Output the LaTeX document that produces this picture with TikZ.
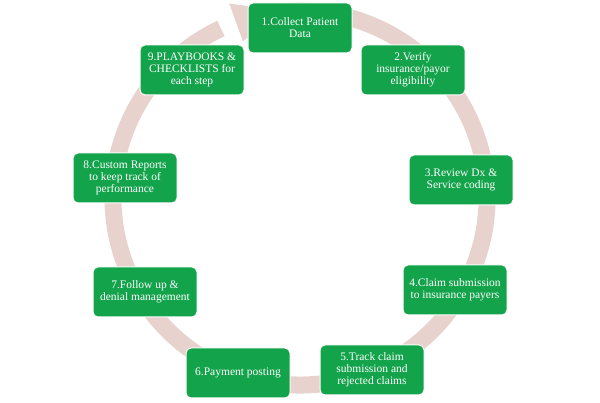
\documentclass[tikz,border=0pt]{standalone}
\usepackage{fontspec}
\setmainfont{Liberation Serif}
\definecolor{boxg}{HTML}{13A34B}
\definecolor{ring}{HTML}{E8D2CE}
\begin{document}
\begin{tikzpicture}[x=1pt,y=1pt,
  stepbox/.style={draw=white,line width=1pt,fill=boxg,rounded corners=5pt,text=white,
    minimum width=104pt,minimum height=50pt,align=center,
    font=\fontsize{11.5}{12}\selectfont,inner sep=2pt}]
\useasboundingbox (0,0) rectangle (600,403);
\coordinate (c) at (300,205);
\draw[ring,line width=17pt] ([shift={(109:187)}]c) arc[start angle=109,end angle=-245,radius=187];
\fill[ring] ([shift={(94:187)}]c) -- ([shift={(110:207)}]c) -- ([shift={(110:167)}]c) -- cycle;
\node[stepbox] (n1) at (300,375) {1.Collect Patient\\Data};
\node[stepbox] (n2) at (413,333) {2.Verify\\insurance/payor\\eligibility};
\node[stepbox] (n3) at (461,223) {3.Review Dx \&\\Service coding};
\node[stepbox] (n4) at (455,113) {4.Claim submission\\to insurance payers};
\node[stepbox] (n5) at (372,33) {5.Track claim\\submission and\\rejected claims};
\node[stepbox] (n6) at (238,30) {6.Payment posting};
\node[stepbox] (n7) at (145,111) {7.Follow up \&\\denial management};
\node[stepbox] (n8) at (125,225) {8.Custom Reports\\to keep track of\\performance};
\node[stepbox] (n9) at (192,333) {9.PLAYBOOKS \&\\CHECKLISTS for\\each step};
\end{tikzpicture}
\end{document}
